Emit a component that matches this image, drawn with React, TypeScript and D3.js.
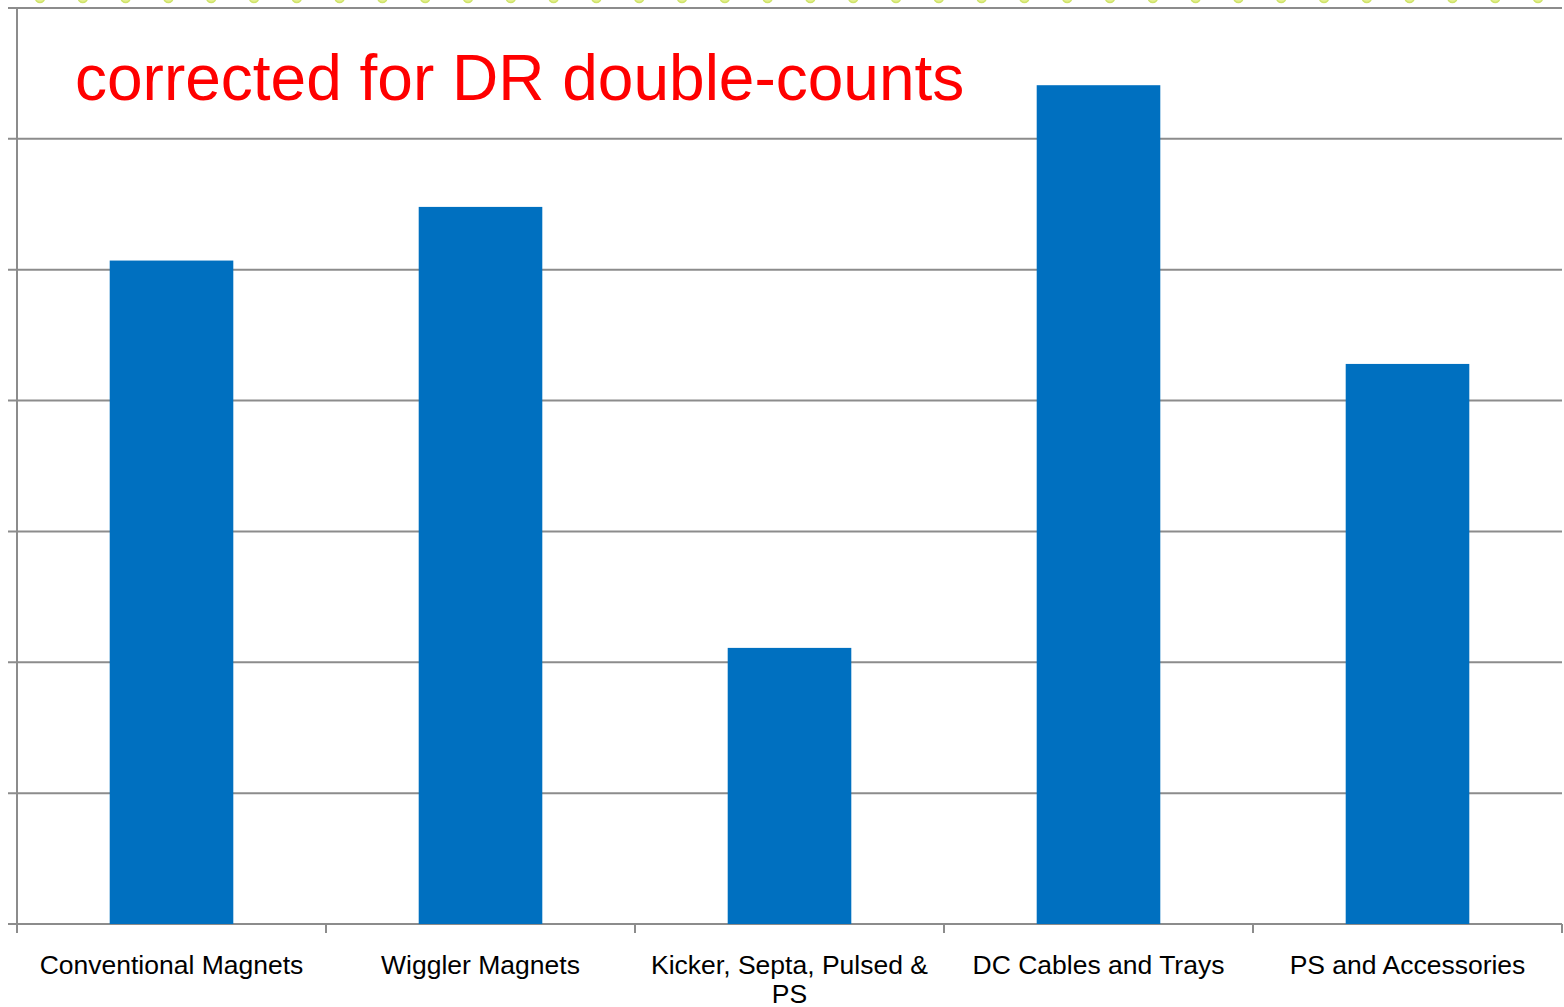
import React from "react";
import * as d3 from "d3";

const categories = [
  ["Conventional Magnets"],
  ["Wiggler Magnets"],
  ["Kicker, Septa, Pulsed &", "PS"],
  ["DC Cables and Trays"],
  ["PS and Accessories"],
];
const values = [5.07, 5.48, 2.11, 6.41, 4.28];
const yTicks = [0, 1, 2, 3, 4, 5, 6, 7];
const title = "corrected for DR double-counts";

const W = 1564;
const H = 1007;
const margin = { left: 17, right: 2, top: 8, bottom: 83 };

export default function App() {
  const x = d3
    .scaleBand<number>()
    .domain(categories.map((_, i) => i))
    .range([margin.left, W - margin.right])
    .paddingInner(0.6)
    .paddingOuter(0.3);
  const band = d3
    .scaleBand<number>()
    .domain(categories.map((_, i) => i))
    .range([margin.left, W - margin.right]);
  const y = d3.scaleLinear().domain([0, 7]).range([H - margin.bottom, margin.top]);
  const dots = d3.range(40, W, 42.8);
  const grey = "#8c8c8c";

  return (
    <svg
      width={W}
      height={H}
      style={{ position: "absolute", left: 0, top: 0, background: "#fff" }}
    >
      {dots.map((cx, i) => (
        <circle key={i} cx={cx} cy={-2} r={4.5} fill="#e4f08e" stroke="#cfe36a" strokeWidth={1.5} />
      ))}
      {yTicks.map((t) => (
        <line
          key={t}
          x1={margin.left - 9}
          x2={W - margin.right}
          y1={y(t)}
          y2={y(t)}
          stroke={grey}
          strokeWidth={2}
        />
      ))}
      <line x1={margin.left} x2={margin.left} y1={y(7)} y2={y(0) + 9} stroke={grey} strokeWidth={2} />
      {categories.map((_, i) => (
        <line
          key={i}
          x1={(band(i) as number) + band.bandwidth()}
          x2={(band(i) as number) + band.bandwidth()}
          y1={y(0)}
          y2={y(0) + 9}
          stroke={grey}
          strokeWidth={2}
        />
      ))}
      {values.map((v, i) => (
        <rect
          key={i}
          x={x(i)}
          width={x.bandwidth()}
          y={y(v)}
          height={y(0) - y(v)}
          fill="#0070C0"
        />
      ))}
      {categories.map((lines, i) => (
        <text
          key={i}
          x={(band(i) as number) + band.bandwidth() / 2}
          y={974}
          textAnchor="middle"
          fontFamily="Liberation Sans, Arial, sans-serif"
          fontSize={26.5}
          fill="#000"
        >
          {lines.map((l, j) => (
            <tspan key={j} x={(band(i) as number) + band.bandwidth() / 2} dy={j === 0 ? 0 : 29}>
              {l}
            </tspan>
          ))}
        </text>
      ))}
      <text
        x={75}
        y={100}
        fontFamily="Liberation Sans, Arial, sans-serif"
        fontSize={64}
        fill="#ff0000"
      >
        {title}
      </text>
    </svg>
  );
}
